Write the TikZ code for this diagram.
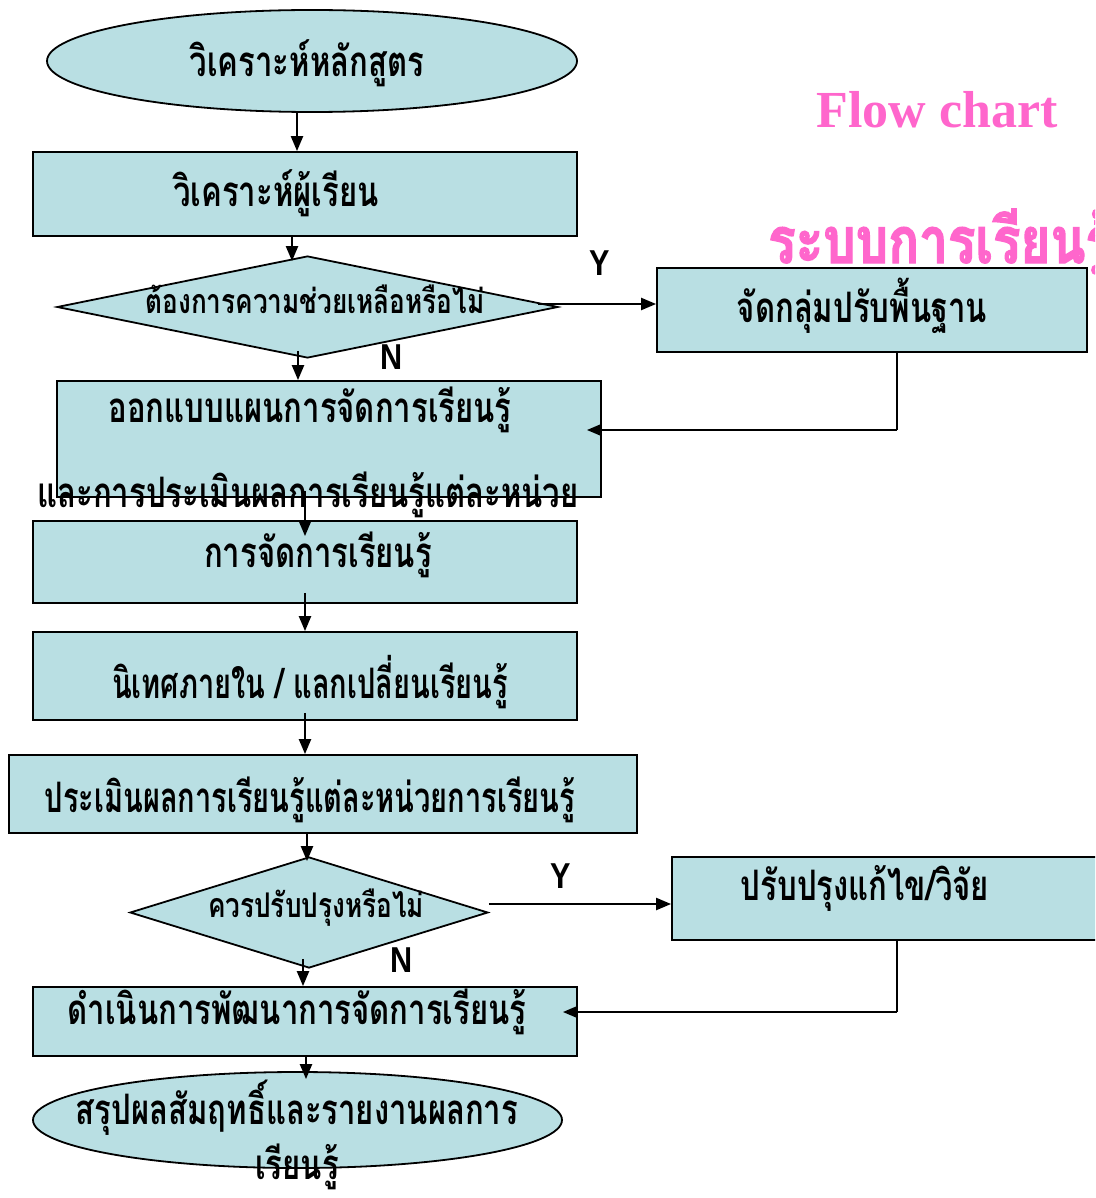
\documentclass[tikz,border=0pt]{standalone}
\usepackage{fontspec}
\setmainfont{Liberation Serif}
\newfontfamily\thai[Script=Thai,FakeStretch=0.74]{Loma}
\newfontfamily\thainarrow[Script=Thai,FakeStretch=0.69]{Loma}
\newfontfamily\thaismall[Script=Thai,FakeStretch=0.77]{Loma}
\newfontfamily\thaititle[Script=Thai,FakeStretch=0.8,FakeBold=2]{Loma}
\newfontfamily\latinsans[FakeStretch=0.85]{Liberation Sans}
\usetikzlibrary{shapes.geometric,arrows.meta,calc}
\definecolor{boxfill}{RGB}{185,223,227}
\definecolor{titlepink}{RGB}{255,102,204}

\begin{document}
\begin{tikzpicture}[x=1pt,y=-1pt,
  stepbox/.style={rectangle,draw=black,fill=boxfill,line width=1.8pt,inner sep=0pt},
  termbox/.style={ellipse,draw=black,fill=boxfill,line width=1.8pt,inner sep=0pt},
  choice/.style={diamond,draw=black,fill=boxfill,line width=1.8pt,inner sep=0pt},
  label text/.style={font=\thai\bfseries\fontsize{42}{44}\selectfont,inner sep=0pt},
  narrow text/.style={font=\thainarrow\bfseries\fontsize{42}{44}\selectfont,inner sep=0pt},
  small text/.style={font=\thaismall\bfseries\fontsize{34}{36}\selectfont,inner sep=0pt},
  yn/.style={font=\latinsans\bfseries\fontsize{36}{38}\selectfont,inner sep=0pt},
  arr/.style={line width=2.2pt,-{Triangle[length=15pt,width=12pt]}},
  back/.style={line width=1.8pt},
]
\clip (0,0) rectangle (1095,1198);
\fill[white] (0,0) rectangle (1095,1198);

% titles
\node[font=\bfseries\fontsize{52}{54}\selectfont,text=titlepink,inner sep=0pt] (title) at (937,110) {Flow chart};
\node[font=\thaititle\bfseries\fontsize{64}{66}\selectfont,text=titlepink,inner sep=0pt,anchor=base west] (subtitle) at (768,263) {ระบบการเรียนรู้};

% shapes
\node[termbox,minimum width=530pt,minimum height=102pt] (e1) at (312,61) {};
\node[stepbox,minimum width=544pt,minimum height=84pt] (b2) at (305,194) {};
\node[choice,minimum width=501pt,minimum height=102pt] (d1) at (307.5,307) {};
\node[stepbox,minimum width=430pt,minimum height=84pt] (b3) at (872,310) {};
\node[stepbox,minimum width=544pt,minimum height=116pt] (b4) at (329,439) {};
\node[stepbox,minimum width=544pt,minimum height=82pt] (b5) at (305,562) {};
\node[stepbox,minimum width=544pt,minimum height=88pt] (b6) at (305,676) {};
\node[stepbox,minimum width=628pt,minimum height=78pt] (b7) at (323,794) {};
\node[choice,minimum width=358pt,minimum height=111pt] (d2) at (309,912.5) {};
\node[stepbox,minimum width=438pt,minimum height=83pt] (b8) at (891,898.5) {};
\node[stepbox,minimum width=544pt,minimum height=69pt] (b9) at (305,1021.5) {};
\node[termbox,minimum width=529pt,minimum height=96pt] (e10) at (297.5,1120) {};

% texts
\node[label text] (t1) at (307,63) {วิเคราะห์หลักสูตร};
\node[label text] (t2) at (276,193) {วิเคราะห์ผู้เรียน};
\node[small text] (t3) at (315,299) {ต้องการความช่วยเหลือหรือไม่};
\node[label text] (t4) at (862,306) {จัดกลุ่มปรับพื้นฐาน};
\node[label text] (t5a) at (310,410) {ออกแบบแผนการจัดการเรียนรู้};
\node[label text] (t5b) at (308,495) {และการประเมินผลการเรียนรู้แต่ละหน่วย};
\node[label text] (t6) at (318,555) {การจัดการเรียนรู้};
\node[narrow text] (t7) at (310,682) {นิเทศภายใน / แลกเปลี่ยนเรียนรู้};
\node[narrow text] (t8) at (310,800) {ประเมินผลการเรียนรู้แต่ละหน่วยการเรียนรู้};
\node[small text] (t9) at (316,908) {ควรปรับปรุงหรือไม่};
\node[label text] (t10) at (865,888) {ปรับปรุงแก้ไข/วิจัย};
\node[label text] (t11) at (297,1012) {ดำเนินการพัฒนาการจัดการเรียนรู้};
\node[label text] (t12a) at (297,1108) {สรุปผลสัมฤทธิ์และรายงานผลการ};
\node[label text] (t12b) at (297,1167) {เรียนรู้};

% branch labels
\node[yn] (y1) at (600,263) {Y};
\node[yn] (n1) at (392,357) {N};
\node[yn] (y2) at (561,876) {Y};
\node[yn] (n2) at (402,960) {N};

% guide coordinates for the connector columns
\coordinate (c1) at (297,0);
\coordinate (c2) at (292,0);
\coordinate (c3) at (298,0);
\coordinate (c4) at (305,0);
\coordinate (c5) at (307,0);
\coordinate (c6) at (303,0);
\coordinate (c7) at (306,0);
\coordinate (fb1) at (897,430);
\coordinate (fb2) at (897,1012);

% main flow
\draw[arr] (e1.south -| c1) -- (b2.north -| c1);
\draw[arr] (b2.south -| c2) -- ($(d1.north -| c2)+(0,6)$);
\draw[arr] ($(d1.east)+(-21,-3)$) -- (b3.west |- 0,304);
\draw[arr] ($(d1.south -| c3)+(0,-8)$) -- (b4.north -| c3);
\draw[arr] ($(b4.south -| c4)+(0,-7)$) -- ($(b5.north -| c4)+(0,16)$);
\draw[arr] ($(b5.south -| c4)+(0,-11)$) -- (b6.north -| c4);
\draw[arr] ($(b6.south -| c4)+(0,-8)$) -- (b7.north -| c4);
\draw[arr] (b7.south -| c5) -- ($(d2.north -| c5)+(0,5)$);
\draw[arr] (d2.east |- 0,904) -- (b8.west |- 0,904);
\draw[arr] ($(d2.south -| c6)+(0,-10)$) -- (b9.north -| c6);
\draw[arr] (b9.south -| c7) -- ($(e10.north -| c7)+(0,8)$);

% return paths
\draw[back] (b3.south -| fb1) -- (fb1);
\draw[arr] (fb1) -- ($(b4.east |- fb1)+(-15,0)$);
\draw[back] (b8.south -| fb2) -- (fb2);
\draw[arr] (fb2) -- ($(b9.east |- fb2)+(-15,0)$);
\end{tikzpicture}
\end{document}
